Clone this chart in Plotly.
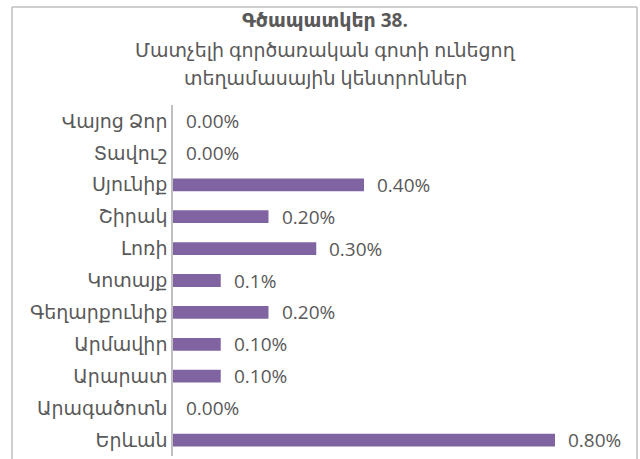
import plotly.graph_objects as go

# Regions listed top to bottom, with share of centres (%) and the printed labels
regions = ["Վայոց Ձոր", "Տավուշ", "Սյունիք", "Շիրակ", "Լոռի", "Կոտայք",
           "Գեղարքունիք", "Արմավիր", "Արարատ", "Արագածոտն", "Երևան"]
shares = [0.0, 0.0, 0.4, 0.2, 0.3, 0.1, 0.2, 0.1, 0.1, 0.0, 0.8]
value_labels = ["0.00%", "0.00%", "0.40%", "0.20%", "0.30%", "0.1%",
                "0.20%", "0.10%", "0.10%", "0.00%", "0.80%"]

title_main = "Գծապատկեր 38."
title_sub = ["Մատչելի գործառական գոտի ունեցող", "տեղամասային կենտրոններ"]

BAR = "#8064A2"
TXT = "#595959"
FONT = "Open Sans, DejaVu Sans, sans-serif"

W, H = 640, 459
ML, MR, MT, MB = 173, 20, 105, 3
px_per_unit = 477.5
x_max = (W - ML - MR) / px_per_unit


def px_x(p):
    return (p - ML) / (W - ML - MR)


def px_y(p):
    return 1 - (p - MT) / (H - MT - MB)


fig = go.Figure(go.Bar(
    x=shares, y=regions, orientation="h",
    marker=dict(color=BAR, line=dict(width=0)),
    width=0.4, hoverinfo="skip",
))

for r, v, lab in zip(regions, shares, value_labels):
    fig.add_annotation(x=v, y=r, text=lab, showarrow=False, xanchor="left",
                       xshift=11, font=dict(family=FONT, size=19, color=TXT))

# chart heading, centred on the frame
cx = px_x(325)
fig.add_annotation(x=cx, y=px_y(20), xref="paper", yref="paper",
                   xanchor="center", yanchor="middle",
                   text=f"<b>{title_main}</b>", showarrow=False,
                   font=dict(family=FONT, size=19, color=TXT))
for i, line in enumerate(title_sub):
    fig.add_annotation(x=cx, y=px_y(50 + 28 * i), xref="paper", yref="paper",
                       xanchor="center", yanchor="middle",
                       text=line, showarrow=False,
                       font=dict(family=FONT, size=19, color=TXT))

# outer frame of the chart
frame = dict(color="#BFBFBF", width=1.5)
fig.add_shape(type="line", xref="paper", yref="paper", x0=px_x(12), x1=px_x(12),
              y0=px_y(7), y1=px_y(470), line=frame)
fig.add_shape(type="line", xref="paper", yref="paper", x0=px_x(12), x1=px_x(637),
              y0=px_y(7), y1=px_y(7), line=frame)
fig.add_shape(type="line", xref="paper", yref="paper", x0=px_x(637), x1=px_x(637),
              y0=px_y(7), y1=px_y(470), line=frame)

fig.update_layout(
    width=W, height=H, margin=dict(l=ML, r=MR, t=MT, b=MB),
    paper_bgcolor="white", plot_bgcolor="white", showlegend=False,
    bargap=0.6,
    xaxis=dict(range=[0, x_max], visible=False, fixedrange=True),
    yaxis=dict(autorange="reversed", showgrid=False, zeroline=False,
               showline=True, linecolor="#BFBFBF", linewidth=1.5,
               ticks="", ticklabelstandoff=0,
               tickfont=dict(family=FONT, size=19, color=TXT)),
)

fig.write_html("out.html")
